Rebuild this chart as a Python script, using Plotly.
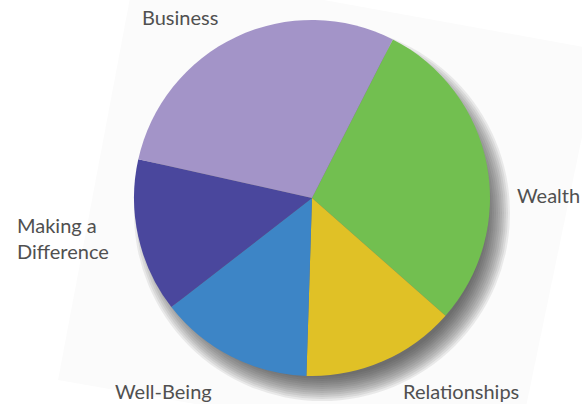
import plotly.graph_objects as go

labels = ["Wealth", "Relationships", "Well-Being", "Making a Difference", "Business"]
values = [29, 14, 14, 14, 29]
colors = ["#72BF50", "#E0C126", "#3D85C6", "#4A479D", "#A394C8"]

W, H = 582, 404
cx, cy, r = 312, 198, 178

fig = go.Figure()
fig.add_trace(go.Pie(
    labels=labels, values=values, sort=False, direction="clockwise", rotation=27,
    marker=dict(colors=colors, line=dict(width=0)),
    textinfo="none", hoverinfo="label+percent", showlegend=False,
    domain=dict(x=[(cx - r) / W, (cx + r) / W], y=[1 - (cy + r) / H, 1 - (cy - r) / H]),
))

def px(x, y):
    return f"{x / W:.4f},{1 - y / H:.4f}"

shapes = []
# faint rotated backdrop
shapes.append(dict(type="path", xref="paper", yref="paper", layer="below",
                   path=f"M {px(136, -34)} L {px(600, 50)} L {px(515, 460)} L {px(58, 380)} Z",
                   fillcolor="rgb(251,251,251)", line=dict(width=0)))
# soft drop shadow (stack of translucent discs)
ox, oy = 10, 15
for k in range(10, -16, -2):
    rr = r + k
    shapes.append(dict(type="circle", xref="paper", yref="paper", layer="below",
                       x0=(cx + ox - rr) / W, x1=(cx + ox + rr) / W,
                       y0=1 - (cy + oy + rr) / H, y1=1 - (cy + oy - rr) / H,
                       fillcolor="rgba(50,50,55,0.09)", line=dict(width=0)))

ann_font = dict(family="Lato, Open Sans, sans-serif", size=20, color="#505050")
annotations = [
    dict(text="Business", x=180 / W, y=1 - 17 / H, xanchor="center", yanchor="middle"),
    dict(text="Wealth", x=548 / W, y=1 - 195 / H, xanchor="center", yanchor="middle"),
    dict(text="Making a<br>Difference", x=15 / W, y=1 - 238 / H, xanchor="left", yanchor="middle", align="left"),
    dict(text="Well-Being", x=163 / W, y=1 - 391 / H, xanchor="center", yanchor="middle"),
    dict(text="Relationships", x=461 / W, y=1 - 391 / H, xanchor="center", yanchor="middle"),
]
for a in annotations:
    a.update(xref="paper", yref="paper", showarrow=False, font=ann_font)

fig.update_layout(width=W, height=H, margin=dict(l=0, r=0, t=0, b=0),
                  paper_bgcolor="white", plot_bgcolor="white",
                  shapes=shapes, annotations=annotations)
fig.write_html("out.html", config={"displayModeBar": False},
               post_script="document.body.style.margin='0';document.body.style.overflow='hidden';")
